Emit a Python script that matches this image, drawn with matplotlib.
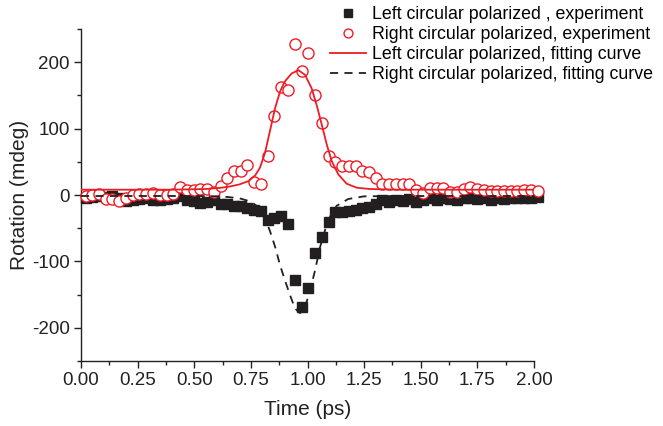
import matplotlib
matplotlib.use("Agg")
import matplotlib.pyplot as plt
from matplotlib.ticker import MultipleLocator, FormatStrFormatter

plt.rcParams['font.family'] = ['Liberation Sans', 'DejaVu Sans']
plt.rcParams['axes.unicode_minus'] = False

# sampling times of the experiment (ps)
time = [0.020, 0.050, 0.080, 0.109, 0.139, 0.169, 0.199, 0.229, 0.258, 0.288,
        0.318, 0.348, 0.378, 0.407, 0.437, 0.467, 0.497, 0.527, 0.556, 0.586,
        0.616, 0.646, 0.676, 0.705, 0.735, 0.765, 0.795, 0.825, 0.854, 0.884,
        0.914, 0.944, 0.974, 1.003, 1.033, 1.063, 1.093, 1.123, 1.152, 1.182,
        1.212, 1.242, 1.272, 1.301, 1.331, 1.361, 1.391, 1.421, 1.450, 1.480,
        1.510, 1.540, 1.570, 1.599, 1.629, 1.659, 1.689, 1.719, 1.748, 1.778,
        1.808, 1.838, 1.868, 1.897, 1.927, 1.957, 1.987, 2.017]

left_exp = [-4, -3, -2, -3, -2, -5, -9, -8, -6, -5,
            -7, -8, -6, -5, -2, -8, -9, -12, -10, -8,
            -14, -14, -16, -17, -19, -22, -24, -38, -35, -31,
            -43, -128, -168, -140, -88, -63, -40, -25, -26, -24,
            -22, -20, -18, -13, -8, -10, -7, -9, -6, -10,
            -8, -5, -7, -4, -6, -8, -5, -4, -6, -5,
            -7, -5, -6, -4, -5, -4, -4, -3]

right_exp = [-1.5, 0, 2, -6.5, -6.5, -9, -5, 0, 1, 1,
             3.5, 0, 0, 1, 12, 7, 7.5, 8.5, 8.5, 5,
             13.5, 25, 36, 36, 44.5, 19.5, 17, 58.5, 118.5, 163,
             158, 227, 187, 214, 150, 109, 59, 49, 43, 43,
             44, 36, 35, 26, 16, 16, 16, 16, 16, 7,
             3.5, 10, 11, 10, 5, 5, 8.5, 12, 8.5, 7,
             6, 6, 6, 6, 6, 7, 7, 6]

fit_left_t = [0.00, 0.40, 0.55, 0.62, 0.66, 0.70, 0.74, 0.77, 0.79, 0.812,
              0.834, 0.857, 0.879, 0.90, 0.93, 0.96, 0.989, 1.018, 1.04, 1.063,
              1.085, 1.107, 1.136, 1.173, 1.217, 1.276, 1.40, 2.00]
fit_left_v = [8, 8, 9, 11, 13, 16, 21, 30, 41, 63,
              96, 131, 156, 171, 183, 188, 181, 161, 136, 106,
              76, 51, 31, 17, 11, 9, 8, 8]

fit_right_t = [0.00, 0.50, 0.62, 0.70, 0.75, 0.79, 0.812, 0.834, 0.857, 0.879,
               0.901, 0.923, 0.945, 0.967, 0.989, 1.011, 1.033, 1.055, 1.085, 1.11,
               1.13, 1.18, 1.25, 1.40, 2.00]
fit_right_v = [-1.5, -1.5, -2, -5, -10, -20, -35, -54, -78, -106,
               -129, -151, -171, -178, -169, -144, -114, -79, -44, -25,
               -16, -6, -2, -1.5, -1.5]

labels = ["Left circular polarized , experiment",
          "Right circular polarized, experiment",
          "Left circular polarized, fitting curve",
          "Right circular polarized, fitting curve"]

fig = plt.figure(figsize=(6.63, 4.26), dpi=100)
ax = fig.add_axes([81/663, 65/426, (534-81)/663, (361-29)/426])

black = '#231f20'
red = '#ee1c24'

h1, = ax.plot(time, left_exp, linestyle='none', marker='s', markersize=6.5,
              color=black, clip_on=False, zorder=3, label=labels[0])
h2, = ax.plot(time, right_exp, linestyle='none', marker='o', markersize=8,
              markerfacecolor='white', markeredgecolor=red, markeredgewidth=1.0,
              clip_on=False, zorder=4, label=labels[1])
h3, = ax.plot(fit_left_t, fit_left_v, color=red, linewidth=1.3, zorder=5,
              label=labels[2])
h4, = ax.plot(fit_right_t, fit_right_v, color=black, linewidth=1.3,
              linestyle=(0, (4.5, 3.5)), zorder=6, label=labels[3])

ax.set_xlim(0, 2.0)
ax.set_ylim(-250, 250)
ax.spines['top'].set_visible(False)
ax.spines['right'].set_visible(False)
for s in ('left', 'bottom'):
    ax.spines[s].set_linewidth(1.0)
    ax.spines[s].set_color('#222222')

ax.xaxis.set_major_locator(MultipleLocator(0.25))
ax.xaxis.set_minor_locator(MultipleLocator(0.125))
ax.xaxis.set_major_formatter(FormatStrFormatter('%.2f'))
ax.yaxis.set_major_locator(MultipleLocator(100))
ax.yaxis.set_minor_locator(MultipleLocator(50))
ax.tick_params(which='major', direction='out', length=5, width=1,
               labelsize=13.5, colors='#222222', pad=3)
ax.tick_params(which='minor', direction='out', length=3, width=1, colors='#222222')

ax.set_xlabel("Time (ps)", fontsize=15, color='#222222', labelpad=8)
ax.set_ylabel("Rotation (mdeg)", fontsize=15, color='#222222', labelpad=2)

fig.legend(handles=[h1, h2, h3, h4], loc='upper left',
           bbox_to_anchor=(330/663, 1 - 6/426), frameon=False, fontsize=12.8,
           handlelength=2.0, handletextpad=0.35, labelspacing=0.17,
           borderpad=0, borderaxespad=0, markerscale=0.8)

fig.savefig("out.png", dpi=100)
